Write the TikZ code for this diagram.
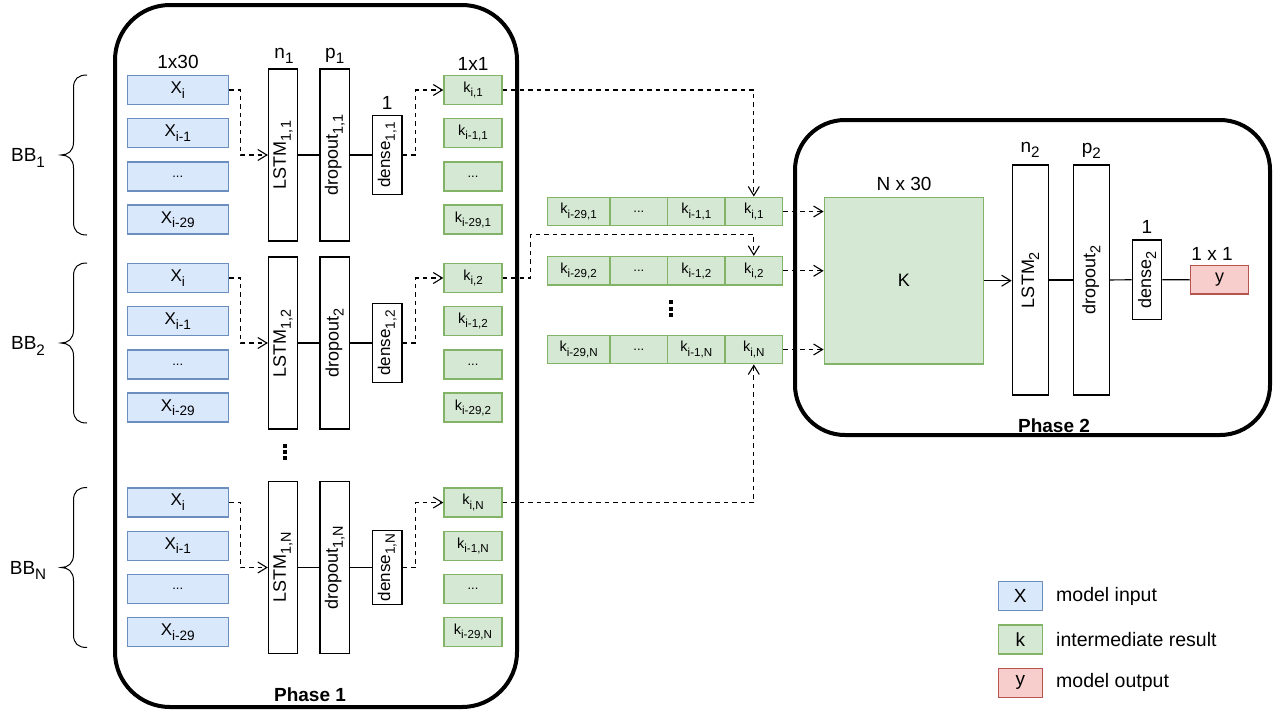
\documentclass[tikz,border=0pt]{standalone}
\usepackage{fontspec}
\setmainfont{Liberation Sans}
\usetikzlibrary{arrows.meta,calc}
\definecolor{xfill}{HTML}{DAE8FC}
\definecolor{xstroke}{HTML}{6C8EBF}
\definecolor{kfill}{HTML}{D5E8D4}
\definecolor{kstroke}{HTML}{82B366}
\definecolor{yfill}{HTML}{F8CECC}
\definecolor{ystroke}{HTML}{B85450}
\makeatletter
\newcommand\sbs[1]{\raisebox{-0.28em}{\fontsize{\fpeval{0.8*\f@size}}{1}\selectfont #1}}
\makeatother
\newcommand\fs[1]{\fontsize{#1}{#1}\selectfont}
\tikzset{
  xbox/.style={draw=xstroke, fill=xfill, line width=1.4pt, minimum width=101pt, minimum height=29pt, inner sep=0pt, font=\fs{17}},
  kbox/.style={draw=kstroke, fill=kfill, line width=1.4pt, minimum width=58pt, minimum height=29pt, inner sep=0pt, font=\fs{14.5}},
  ybox/.style={draw=ystroke, fill=yfill, line width=1.4pt, minimum width=58pt, minimum height=28.5pt, inner sep=0pt, font=\fs{18}},
  layer/.style={draw, line width=1.3pt, fill=white, inner sep=0pt},
  lab/.style={font=\fs{19}, inner sep=0pt},
  rlab/.style={rotate=90, font=\fs{18}, inner sep=0pt},
  dconn/.style={dash pattern=on 4.5pt off 4pt, line width=1.1pt, -{Straight Barb[length=9pt,width=11pt]}},
  sconn/.style={line width=1.1pt},
  phase/.style={draw, line width=4pt, inner sep=0pt},
}
\begin{document}
\begin{tikzpicture}[x=1pt,y=-1pt]
\useasboundingbox (0,0) rectangle (1281,712);
% phase frames
\node[phase, minimum width=402pt, minimum height=702pt, rounded corners=55pt] (P1) at (316,356) {};
\node[phase, minimum width=475pt, minimum height=315pt, rounded corners=50pt] (P2) at (1032.5,277.5) {};
\node[lab, font=\fs{19}\bfseries] (ph1) at (310,695) {Phase 1};
\node[lab, font=\fs{19}\bfseries] (ph2) at (1054,426) {Phase 2};

% building blocks of phase 1
\foreach \b/\t/\s/\ds/\ks/\dh in {1/75.5/{1,1}/{1,1}/1/79, 2/263.5/{1,2}/2/2/79, N/488/{1,N}/{1,N}/N/74} {
  \pgfmathsetmacro\ya{\t+14.5}
  \pgfmathsetmacro\yb{\t+57.7}
  \pgfmathsetmacro\yc{\t+100.9}
  \pgfmathsetmacro\yd{\t+144.1}
  \pgfmathsetmacro\ym{\t+79.5}
  \pgfmathsetmacro\bt{\t-0.5}
  \pgfmathsetmacro\bb{\t+159.5}
  % inputs
  \node[xbox] (xa\b) at (177.8,\ya) {X\sbs{i}};
  \node[xbox] (xb\b) at (177.8,\yb) {X\sbs{i-1}};
  \node[xbox, font=\fs{13}] (xc\b) at (177.8,\yc) {...};
  \node[xbox] (xd\b) at (177.8,\yd) {X\sbs{i-29}};
  % layers
  \node[layer, minimum width=29pt, minimum height=172pt] (lstm\b) at (283,\ym) {};
  \node[rlab] (lstmt\b) at (lstm\b) {LSTM\sbs{\s}};
  \node[layer, minimum width=29.5pt, minimum height=172pt] (drop\b) at (334.7,\ym) {};
  \node[rlab] (dropt\b) at (drop\b) {dropout\sbs{\ds}};
  \node[layer, minimum width=29.5pt, minimum height=\dh pt] (dense\b) at (387.2,\ym) {};
  \node[rlab, font=\fs{17}] (denset\b) at (dense\b) {dense\sbs{\s}};
  % outputs
  \node[kbox] (ka\b) at (473,\ya) {k\sbs{i,\ks}};
  \node[kbox] (kb\b) at (473,\yb) {k\sbs{i-1,\ks}};
  \node[kbox, font=\fs{13}] (kc\b) at (473,\yc) {...};
  \node[kbox] (kd\b) at (473,\yd) {k\sbs{i-29,\ks}};
  % connectors
  \draw[dconn] (xa\b.east) -- ++(11.5,0) |- (lstm\b.west);
  \draw[sconn] (lstm\b.east) -- (drop\b.west);
  \draw[sconn] (drop\b.east) -- (dense\b.west);
  \draw[dconn] (dense\b.east) -- ++(13,0) |- (ka\b.west);
  % brace and label
  \draw[line width=1pt] (87,\bt) .. controls (78,\bt) and (73.5,\bt+4) .. (73.5,\bt+13)
     -- (73.5,\ym-13) .. controls (73.5,\ym-4) and (68,\ym) .. (61,\ym)
     .. controls (68,\ym) and (73.5,\ym+4) .. (73.5,\ym+13)
     -- (73.5,\bb-13) .. controls (73.5,\bb-4) and (78,\bb) .. (87,\bb);
  \node[lab] (bb\b) at (28,\ym+3) {BB\sbs{\b}};
}
% vertical ellipsis between blocks
\foreach \d in {0,1,2} \fill (283.2,443.5+6.3*\d) rectangle ++(4,4);

% top labels of phase 1
\node[lab] (l130) at (178,62) {1x30};
\node[lab] (ln1) at (284,56) {n\sbs{1}};
\node[lab] (lp1) at (334.7,56) {p\sbs{1}};
\node[lab] (ld1) at (387.2,103) {1};
\node[lab] (l11) at (473,64) {1x1};

% collected rows
\foreach \r/\yy in {1/211.5, 2/270.8, N/349.5} {
  \node[kbox, minimum width=62.7pt, minimum height=28.5pt] (r\r a) at (578.6,\yy) {k\sbs{i-29,\r}};
  \node[kbox, minimum width=57.7pt, minimum height=28.5pt, font=\fs{13}] (r\r b) at (638.8,\yy) {...};
  \node[kbox, minimum width=57.3pt, minimum height=28.5pt] (r\r c) at (696.3,\yy) {k\sbs{i-1,\r}};
  \node[kbox, minimum width=57.7pt, minimum height=28.5pt] (r\r d) at (753.8,\yy) {k\sbs{i,\r}};
}
\foreach \d in {0,1,2} \fill (669.3,300+6.5*\d) rectangle ++(4,4);

% K matrix
\node[kbox, minimum width=159pt, minimum height=166.7pt, font=\fs{18}] (K) at (903.8,280.7) {K};
\node[lab] (lnx30) at (904,184) {N x 30};

% routes from phase 1 to rows
\coordinate (m2) at (753.8,234.3);
\draw[dconn] (ka1.east) -| (r1d.north);
\draw[dconn] (ka2.east) -- ++(28,0) |- (m2) -- (r2d.north);
\draw[dconn] (kaN.east) -| (rNd.south);
\draw[dconn] (r1d.east) -- (r1d.east -| K.west);
\draw[dconn] (r2d.east) -- (r2d.east -| K.west);
\draw[dconn] (rNd.east) -- (rNd.east -| K.west);

% phase 2 layers
\node[layer, minimum width=36pt, minimum height=230pt] (L2) at (1030.3,280) {};
\node[rlab] (L2t) at (L2) {LSTM\sbs{2}};
\node[layer, minimum width=36pt, minimum height=230pt] (D2) at (1091.3,280) {};
\node[rlab] (D2t) at (D2) {dropout\sbs{2}};
\node[layer, minimum width=29.4pt, minimum height=79.3pt] (E2) at (1147,279.7) {};
\node[rlab] (E2t) at (E2) {dense\sbs{2}};
\node[ybox] (Y) at (1219.5,279.8) {y};
\node[lab] (ln2) at (1030,150) {n\sbs{2}};
\node[lab] (lp2) at (1091.3,151) {p\sbs{2}};
\node[lab] (ld2) at (1147,227) {1};
\node[lab] (ly11) at (1212,254) {1 x 1};
\draw[sconn, -{Straight Barb[length=9pt,width=11pt]}] (K.east) -- (K.east -| L2.west);
\draw[sconn] (L2.east) -- (D2.west);
\draw[sconn] (D2.east) -- (E2.west);
\draw[sconn] (E2.east) -- (Y.west);

% legend
\node[xbox, minimum width=44pt, font=\fs{19}] (gx) at (1020.3,596.2) {X};
\node[kbox, minimum width=44pt, font=\fs{19}] (gk) at (1020.3,639.5) {k};
\node[ybox, minimum width=44pt, minimum height=29pt, font=\fs{19}] (gy) at (1020.3,682.8) {y};
\node[lab, anchor=west, font=\fs{19.5}] (gxt) at (1056,596.2) {model input};
\node[lab, anchor=west, font=\fs{19.5}] (gkt) at (1056,639.5) {intermediate result};
\node[lab, anchor=west, font=\fs{19.5}] (gyt) at (1056,682.8) {model output};
\end{tikzpicture}
\end{document}
